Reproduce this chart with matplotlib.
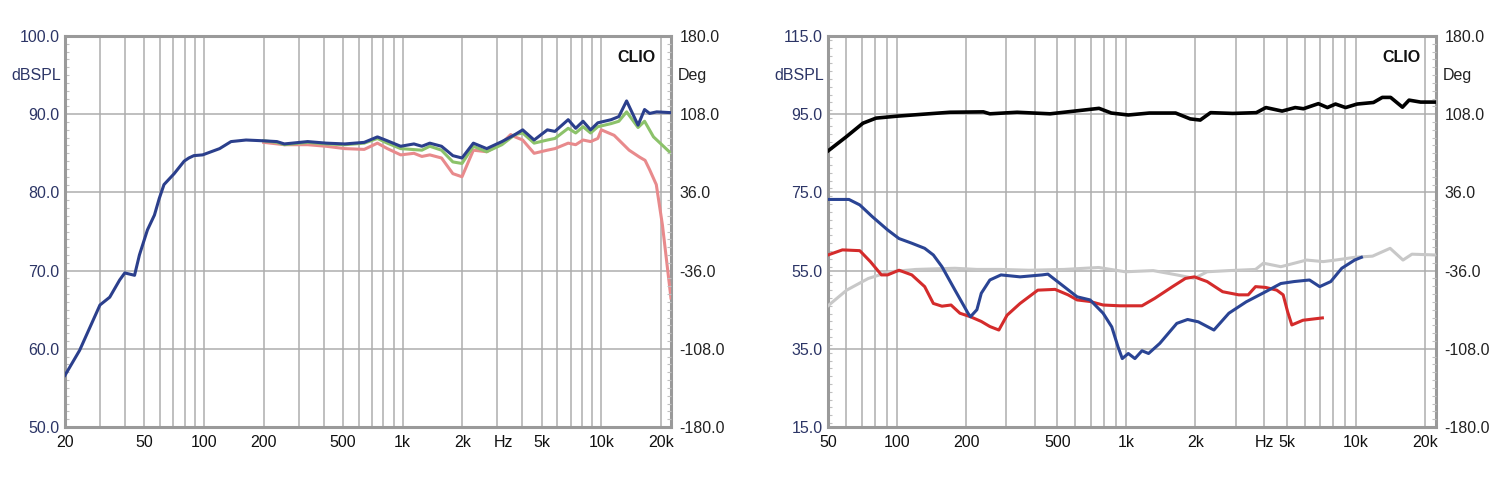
import matplotlib
matplotlib.use("Agg")
import matplotlib.pyplot as plt
import matplotlib.transforms as mtransforms
from matplotlib.ticker import FixedLocator, MultipleLocator, NullFormatter
import numpy as np

plt.rcParams['font.family'] = ['Liberation Sans', 'DejaVu Sans']

# ---------------- Left chart data ----------------
navy_f = [20, 23.7, 30, 33.6, 37.7, 40, 44.8, 47.4, 52, 56.4, 59.6, 63, 70.9, 79.6, 84, 89, 98.6,
          120, 137, 163, 199, 233, 254, 333, 413, 512, 641, 747, 838, 978, 1140, 1250, 1370,
          1570, 1790, 1990, 2270, 2650, 3160, 3680, 4020, 4590, 5350, 5840, 6810, 7430, 8090,
          8830, 9600, 11200, 12250, 13400, 15300, 16500, 17500, 19000, 22400]
navy_db = [56.6, 59.8, 65.6, 66.6, 68.8, 69.7, 69.4, 72.0, 75.2, 77.1, 79.2, 81.0, 82.4, 84.0, 84.4,
           84.7, 84.8, 85.6, 86.5, 86.7, 86.6, 86.5, 86.2, 86.5, 86.3, 86.2, 86.4, 87.1, 86.6,
           85.9, 86.2, 85.9, 86.3, 85.9, 84.7, 84.4, 86.3, 85.6, 86.5, 87.4, 88.0, 86.7, 88.0,
           87.8, 89.3, 88.2, 89.1, 88.0, 88.9, 89.3, 89.7, 91.7, 88.6, 90.6, 90.1, 90.3, 90.2]

green_f = [200, 233, 254, 333, 413, 512, 641, 747, 838, 978, 1250, 1370, 1570, 1790, 1990, 2270,
           2650, 3160, 3680, 4020, 4590, 5350, 5840, 6810, 7430, 8090, 8830, 9600, 11200, 12250,
           13400, 15300, 16500, 18300, 22400]
green_db = [86.6, 86.4, 86.1, 86.4, 86.2, 86.1, 86.3, 86.9, 86.3, 85.6, 85.4, 85.9, 85.4, 83.9,
            83.7, 85.9, 85.2, 86.1, 87.4, 87.6, 86.3, 86.7, 86.9, 88.2, 87.6, 88.4, 87.6, 88.4,
            88.8, 89.1, 90.3, 88.3, 89.1, 87.1, 85.0]

pink_f = [200, 254, 333, 413, 512, 641, 747, 838, 978, 1140, 1250, 1370, 1570, 1790, 1990, 2270,
          2650, 3160, 3500, 3680, 4020, 4590, 5350, 5840, 6810, 7430, 8090, 8830, 9600, 10000,
          11600, 13800, 15600, 16600, 17500, 18900, 20300, 22400]
pink_db = [86.4, 86.1, 86.1, 85.9, 85.6, 85.5, 86.3, 85.6, 84.8, 85.0, 84.6, 84.8, 84.4, 82.4,
           82.0, 85.4, 85.2, 86.3, 87.4, 87.1, 86.7, 85.0, 85.4, 85.6, 86.3, 86.1, 86.7, 86.5,
           86.9, 88.0, 87.3, 85.4, 84.5, 84.1, 82.9, 81.0, 75.8, 66.5]

# ---------------- Right chart data ----------------
black_f = [50, 60, 71, 81, 100, 130, 170, 238, 254, 334, 465, 760, 860, 1020, 1260, 1640, 1900,
           2100, 2330, 2910, 3690, 4060, 4780, 5450, 5920, 6880, 7530, 8170, 9040, 10150, 11960,
           13070, 14210, 16000, 17100, 19200, 22400]
black_db = [85.6, 89.2, 92.7, 94.0, 94.5, 95.0, 95.5, 95.6, 95.1, 95.5, 95.1, 96.5, 95.3, 94.8,
            95.3, 95.3, 93.8, 93.5, 95.4, 95.2, 95.4, 96.7, 95.8, 96.7, 96.4, 97.7, 96.7, 97.6,
            96.7, 97.6, 98.0, 99.3, 99.3, 96.8, 98.6, 98.1, 98.1]

blue_f = [50, 61.7, 68.8, 78, 91, 102, 116, 132, 144, 157, 179, 204, 209, 223, 233, 254, 284, 344,
          429, 455, 535, 610, 695, 792, 864, 920, 960, 1020, 1090, 1170, 1250, 1400, 1660, 1850,
          2060, 2410, 2800, 3330, 4050, 4720, 5390, 6290, 6970, 7790, 8700, 9900, 10600]
blue_db = [73.2, 73.2, 71.8, 68.8, 65.4, 63.2, 62.0, 60.7, 59.0, 56.0, 50.0, 44.1, 43.2, 45.0,
           49.2, 52.6, 53.9, 53.4, 53.9, 54.1, 50.9, 48.3, 47.5, 44.1, 40.6, 35.5, 32.5, 33.8,
           32.5, 34.5, 33.8, 36.4, 41.5, 42.5, 41.9, 39.8, 44.1, 47.0, 49.6, 51.7, 52.2, 52.6,
           50.9, 52.2, 55.6, 57.7, 58.4]

red_f = [50, 57.8, 68.8, 76.5, 85.5, 91, 102, 116, 132, 144, 157, 172, 188, 209, 233, 254, 278,
         302, 344, 411, 489, 557, 610, 695, 792, 935, 1170, 1330, 1590, 1810, 1980, 2250, 2630,
         3090, 3400, 3660, 4050, 4530, 4830, 5050, 5270, 5890, 7160]
red_db = [59.0, 60.3, 60.1, 57.3, 53.9, 53.9, 55.1, 53.9, 50.9, 46.6, 45.9, 46.2, 44.1, 43.2,
          42.0, 40.7, 39.8, 43.6, 46.6, 50.0, 50.2, 48.8, 47.5, 47.1, 46.2, 46.0, 46.0, 47.9,
          50.9, 53.0, 53.4, 52.2, 49.6, 48.8, 48.8, 50.9, 50.7, 50.0, 48.8, 44.5, 41.1, 42.3,
          42.9]

gray_f = [50, 60.3, 75, 93, 121, 179, 223, 284, 376, 535, 757, 990, 1310, 1660, 1980, 2250, 2800,
          3660, 3960, 4720, 6110, 7220, 8180, 9900, 11850, 14140, 16090, 17600, 22400]
gray_db = [46.0, 50.0, 53.0, 54.7, 55.3, 55.6, 55.3, 55.3, 55.1, 55.3, 55.8, 54.7, 55.0, 53.9,
           53.0, 54.7, 55.0, 55.3, 56.9, 56.0, 57.7, 57.3, 57.7, 58.4, 58.7, 60.7, 57.7, 59.2,
           59.0]

# ---------------- Axis labels ----------------
left_xticks = [20, 50, 100, 200, 500, 1000, 2000, 3200, 5000, 10000, 20000]
left_xlabels = ['20', '50', '100', '200', '500', '1k', '2k', 'Hz', '5k', '10k', '20k']
right_xticks = [50, 100, 200, 500, 1000, 2000, 4000, 5000, 10000, 20000]
right_xlabels = ['50', '100', '200', '500', '1k', '2k', 'Hz', '5k', '10k', '20k']
left_yticks = [50, 60, 70, 80, 90, 100]
right_yticks = [15, 35, 55, 75, 95, 115]
deg_ticks = [-180, -108, -36, 36, 108, 180]

grid_freqs = [m * 10 ** e for e in range(1, 5) for m in range(1, 10)]

SPINE = '#9a9a9a'
GRID = '#adadad'
LCOL = '#2c3566'
RCOL = '#222222'


def style_axes(ax, xlim, ylim, xticks, xlabels, yticks, unit_y):
    ax.set_xscale('log')
    ax.set_xlim(*xlim)
    ax.set_ylim(*ylim)
    ax.xaxis.remove_overlapping_locs = False
    ax.xaxis.set_major_locator(FixedLocator(xticks))
    ax.set_xticklabels(xlabels)
    ax.xaxis.set_minor_locator(FixedLocator([g for g in grid_freqs if xlim[0] < g < xlim[1]]))
    ax.xaxis.set_minor_formatter(NullFormatter())
    ax.tick_params(axis='x', which='major', length=0, pad=6, labelsize=11.5, labelcolor='#111111')
    ax.tick_params(axis='x', which='minor', length=0)
    ax.set_yticks(yticks)
    ax.set_yticklabels([f'{v:.1f}' for v in yticks])
    ax.yaxis.set_minor_locator(MultipleLocator((yticks[1] - yticks[0]) / 10))
    ax.tick_params(axis='y', which='major', length=0, pad=4, labelsize=11.5, labelcolor=LCOL)
    ax.tick_params(axis='y', which='minor', length=3, direction='in', color='#c0c0c0', width=0.8)
    ax.grid(which='minor', axis='x', color=GRID, lw=1.1)
    ax.grid(which='major', axis='y', color=GRID, lw=1.1)
    ax.set_axisbelow(True)
    for s in ax.spines.values():
        s.set_color(SPINE)
        s.set_linewidth(2.2)
    trans = mtransforms.blended_transform_factory(ax.transAxes, ax.transData)
    ax.text(-0.007, unit_y, 'dBSPL', transform=trans, ha='right', va='center',
            fontsize=11.5, color=LCOL)
    ax.text(0.975, 0.965, 'CLIO', transform=ax.transAxes, ha='right', va='top',
            fontsize=11.5, fontweight='bold', color='#111111')
    tw = ax.twinx()
    tw.set_ylim(-180, 180)
    tw.set_yticks(deg_ticks)
    tw.set_yticklabels([f'{v:.1f}' for v in deg_ticks])
    tw.yaxis.set_minor_locator(MultipleLocator(7.2))
    tw.tick_params(axis='y', which='major', length=0, pad=6, labelsize=11.5, labelcolor=RCOL)
    tw.tick_params(axis='y', which='minor', length=3, direction='in', color='#c0c0c0', width=0.8)
    for s in tw.spines.values():
        s.set_visible(False)
    trans2 = mtransforms.blended_transform_factory(tw.transAxes, tw.transData)
    tw.text(1.012, 144, 'Deg', transform=trans2, ha='left', va='center',
            fontsize=11.5, color=RCOL)
    return tw


fig = plt.figure(figsize=(15, 4.86), dpi=100)
ax1 = fig.add_axes([0.0433, 0.1214, 0.404, 0.8045])
ax2 = fig.add_axes([0.552, 0.1214, 0.4053, 0.8045])

style_axes(ax1, (20, 22400), (50, 100), left_xticks, left_xlabels, left_yticks, 95)
style_axes(ax2, (50, 22400), (15, 115), right_xticks, right_xlabels, right_yticks, 105)

LW = 2.2
ax1.plot(pink_f, pink_db, color='#e88a8c', lw=LW, zorder=3)
ax1.plot(green_f, green_db, color='#8cc26a', lw=LW, zorder=4)
ax1.plot(navy_f, navy_db, color='#2b3f8c', lw=LW, zorder=5)

ax2.plot(gray_f, gray_db, color='#c8c8c8', lw=LW, zorder=3)
ax2.plot(red_f, red_db, color='#d42b2b', lw=LW, zorder=4)
ax2.plot(blue_f, blue_db, color='#2a4494', lw=LW, zorder=5)
ax2.plot(black_f, black_db, color='#000000', lw=LW + 0.4, zorder=6)

fig.savefig('out.png', dpi=100)
